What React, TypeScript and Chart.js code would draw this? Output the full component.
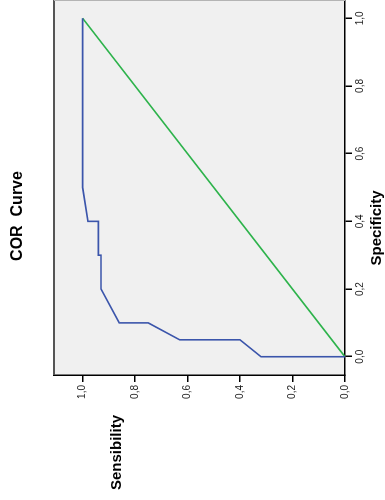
import React, { useEffect, useRef } from "react";
import { Chart, registerables } from "chart.js";

Chart.register(...registerables);

// ROC curve: x = 1 - specificity (axis titled "Specificity"), y = sensitivity
const rocSpec = [0, 0, 0.05, 0.05, 0.1, 0.1, 0.2, 0.3, 0.3, 0.4, 0.4, 0.5, 1.0];
const rocSens = [0, 0.32, 0.4, 0.63, 0.75, 0.86, 0.93, 0.93, 0.94, 0.94, 0.98, 1.0, 1.0];
// Reference (chance) line
const refSpec = [0, 1];
const refSens = [0, 1];

const xTickValues = [0, 0.2, 0.4, 0.6, 0.8, 1.0];
const yTickValues = [0, 0.2, 0.4, 0.6, 0.8, 1.0];

const chartTitle = "COR  Curve";
const xAxisTitle = "Specificity";
const yAxisTitle = "Sensibility";

const FONT = "'Liberation Sans', Arial, Helvetica, sans-serif";

const fmt = (v: number) => v.toFixed(1).replace(".", ",");

const framePlugin = {
  id: "frame",
  beforeDraw(chart: any) {
    const { ctx, chartArea: a } = chart;
    ctx.save();
    ctx.fillStyle = "#f0f0f0";
    ctx.fillRect(a.left, a.top, a.right - a.left, a.bottom - a.top);
    ctx.restore();
  },
  afterDraw(chart: any) {
    const { ctx, chartArea: a } = chart;
    ctx.save();
    // top frame line (dark) and right frame line (light)
    ctx.strokeStyle = "#555555";
    ctx.lineWidth = 2;
    ctx.beginPath();
    ctx.moveTo(a.left, a.top);
    ctx.lineTo(a.right, a.top);
    ctx.stroke();
    ctx.strokeStyle = "#b4b4b4";
    ctx.lineWidth = 1;
    ctx.beginPath();
    ctx.moveTo(a.right - 0.5, a.top);
    ctx.lineTo(a.right - 0.5, a.bottom);
    ctx.stroke();

    ctx.fillStyle = "#000";
    ctx.textBaseline = "alphabetic";
    // Title
    ctx.font = `bold 16px ${FONT}`;
    ctx.textAlign = "center";
    ctx.fillText(chartTitle, 284, 22);
    // x-axis title
    ctx.font = `bold 15px ${FONT}`;
    ctx.fillText(xAxisTitle, 272, 381);
    // y-axis title (horizontal, upper left)
    ctx.textAlign = "left";
    ctx.fillText(yAxisTitle, 10, 121);
    ctx.restore();
  },
};

export default function App() {
  const canvasRef = useRef<HTMLCanvasElement | null>(null);

  useEffect(() => {
    const canvas = canvasRef.current;
    if (!canvas) return;
    const tickFont = { family: FONT, size: 10 };
    const chart = new Chart(canvas, {
      type: "line",
      data: {
        datasets: [
          {
            label: "ROC",
            data: rocSpec.map((x, i) => ({ x, y: rocSens[i] })),
            borderColor: "#3b55ab",
            borderWidth: 1.6,
            pointRadius: 0,
            tension: 0,
            fill: false,
          },
          {
            label: "Reference",
            data: refSpec.map((x, i) => ({ x, y: refSens[i] })),
            borderColor: "#2db34b",
            borderWidth: 1.6,
            pointRadius: 0,
            tension: 0,
            fill: false,
          },
        ],
      },
      options: {
        animation: false,
        responsive: false,
        maintainAspectRatio: false,
        devicePixelRatio: 1,
        layout: { padding: { top: 54, right: 0, bottom: 0, left: 0 } },
        plugins: {
          legend: { display: false },
          title: { display: false },
          tooltip: { enabled: false },
        },
        scales: {
          x: {
            type: "linear",
            min: -0.054,
            max: 1.054,
            afterBuildTicks: (s: any) => {
              s.ticks = xTickValues.map((v) => ({ value: v }));
            },
            afterFit: (s: any) => {
              s.height = 40;
            },
            ticks: {
              callback: (v: any) => fmt(Number(v)),
              font: tickFont,
              color: "#222",
              padding: 2,
              maxRotation: 0,
              minRotation: 0,
              autoSkip: false,
            },
            grid: {
              drawOnChartArea: false,
              drawTicks: true,
              tickLength: 7,
              color: "#000",
              lineWidth: 1.5,
            },
            border: { display: true, color: "#000", width: 1.5 },
          },
          y: {
            type: "linear",
            min: 0,
            max: 1.109,
            afterBuildTicks: (s: any) => {
              s.ticks = yTickValues.map((v) => ({ value: v }));
            },
            afterFit: (s: any) => {
              s.width = 125;
            },
            ticks: {
              callback: (v: any) => fmt(Number(v)),
              font: tickFont,
              color: "#222",
              padding: 3,
              autoSkip: false,
            },
            grid: {
              drawOnChartArea: false,
              drawTicks: true,
              tickLength: 7,
              color: "#000",
              lineWidth: 1.5,
            },
            border: { display: true, color: "#000", width: 1.5 },
          },
        },
      },
      plugins: [framePlugin],
    } as any);
    return () => chart.destroy();
  }, []);

  return (
    <div
      style={{
        position: "fixed",
        left: 0,
        top: 0,
        width: 385,
        height: 500,
        background: "#fff",
        overflow: "hidden",
      }}
    >
      <div
        style={{
          position: "absolute",
          left: 0,
          top: 0,
          width: 500,
          height: 385,
          transformOrigin: "0 0",
          transform: "translateY(500px) rotate(-90deg)",
        }}
      >
        <canvas ref={canvasRef} width={500} height={385} style={{ display: "block" }} />
      </div>
    </div>
  );
}
